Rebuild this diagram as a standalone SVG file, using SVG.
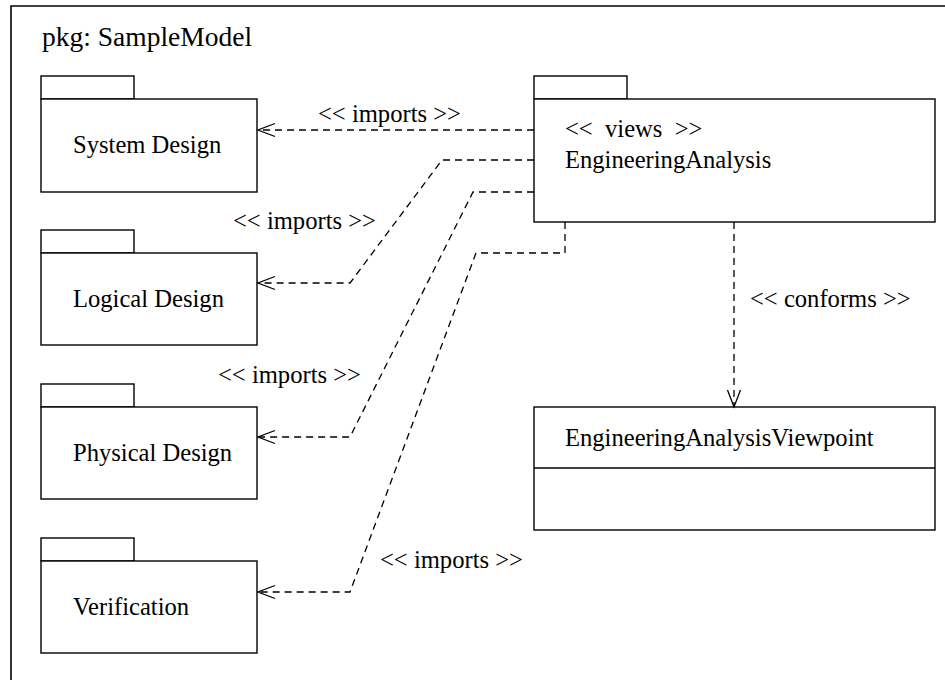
<svg xmlns="http://www.w3.org/2000/svg" width="945" height="680" viewBox="0 0 945 680">
<style>
.box{fill:#ffffff;stroke:#000;stroke-width:1.4}
.t{font-size:24.6px;fill:#000}
.title{font-size:27.5px;fill:#000}
.dep{fill:none;stroke:#000;stroke-width:1.3;stroke-dasharray:7,5}
</style>
<defs>
<marker id="open" viewBox="-19 -9 21 18" refX="0" refY="0" markerWidth="21" markerHeight="18" markerUnits="userSpaceOnUse" orient="auto">
<path d="M-17,-6.5 L0,0 L-17,6.5" fill="none" stroke="#000" stroke-width="1.3"/>
</marker>
</defs>
<rect width="945" height="680" fill="#ffffff"/>
<g font-family="Liberation Serif, DejaVu Serif, serif">
<g id="frame">
<path d="M11,690 V6 H950" fill="none" stroke="#000" stroke-width="1.6"/>
<text class="title" x="42" y="46">pkg: SampleModel</text>
</g>
<g id="system-design">
<rect class="box" x="41" y="76" width="93" height="23"/>
<rect class="box" x="41" y="99" width="216" height="93"/>
<text class="t" x="73" y="153">System Design</text>
</g>
<g id="logical-design">
<rect class="box" x="41" y="230" width="93" height="23"/>
<rect class="box" x="41" y="253" width="216" height="92"/>
<text class="t" x="73" y="307">Logical Design</text>
</g>
<g id="physical-design">
<rect class="box" x="41" y="384" width="93" height="23"/>
<rect class="box" x="41" y="407" width="216" height="92"/>
<text class="t" x="73" y="461">Physical Design</text>
</g>
<g id="verification">
<rect class="box" x="41" y="538" width="93" height="23"/>
<rect class="box" x="41" y="561" width="216" height="92"/>
<text class="t" x="73" y="615">Verification</text>
</g>
<g id="engineering-analysis">
<rect class="box" x="534" y="76" width="93" height="23"/>
<rect class="box" x="534" y="99" width="401" height="123"/>
<text class="t" x="565" y="137" xml:space="preserve">&lt;&lt;  views  &gt;&gt;</text>
<text class="t" x="565" y="168">EngineeringAnalysis</text>
</g>
<g id="engineering-analysis-viewpoint">
<rect class="box" x="534" y="407" width="401" height="123"/>
<line x1="534" y1="468" x2="935" y2="468" stroke="#000" stroke-width="1.4"/>
<text class="t" x="565" y="446">EngineeringAnalysisViewpoint</text>
</g>
<g id="connectors">
<path class="dep" d="M534,130 H258" marker-end="url(#open)"/>
<path class="dep" d="M534,160 H442 L350,283 H258" marker-end="url(#open)"/>
<path class="dep" d="M534,192 H473 L350,437 H258" marker-end="url(#open)"/>
<path class="dep" d="M565,222 V253 H476 L350,592 H258" marker-end="url(#open)"/>
<path class="dep" d="M734,222 V407" marker-end="url(#open)"/>
<text class="t" x="318" y="122">&lt;&lt; imports &gt;&gt;</text>
<text class="t" x="233" y="229">&lt;&lt; imports &gt;&gt;</text>
<text class="t" x="218" y="383">&lt;&lt; imports &gt;&gt;</text>
<text class="t" x="380" y="568">&lt;&lt; imports &gt;&gt;</text>
<text class="t" x="750" y="307">&lt;&lt; conforms &gt;&gt;</text>
</g>
</g>
</svg>
